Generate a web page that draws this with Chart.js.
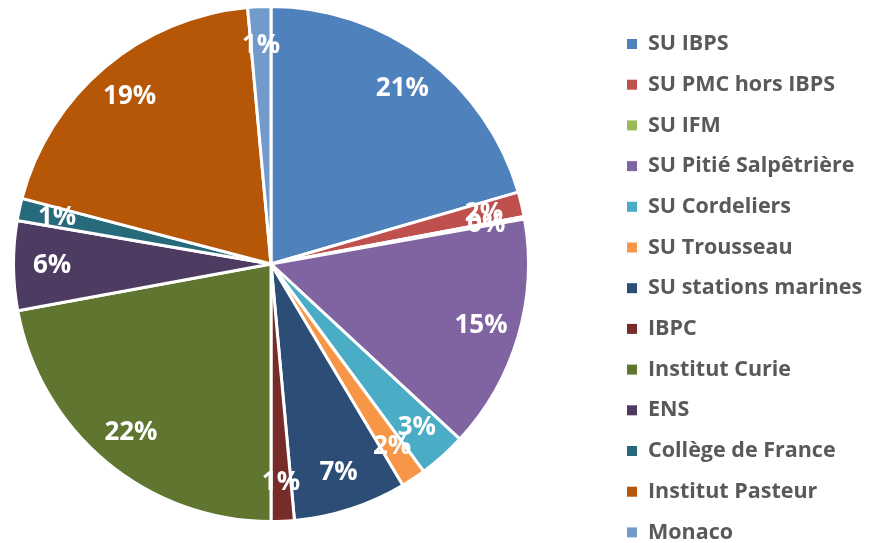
<!DOCTYPE html>
<html>
<head>
<meta charset="utf-8">
<script src="https://cdn.jsdelivr.net/npm/chart.js@4.4.1/dist/chart.umd.min.js"></script>
<style>
  html, body { margin: 0; padding: 0; background: #fff; }
  #wrap { position: relative; width: 869px; height: 543px; }
</style>
</head>
<body>
<div id="wrap"><canvas id="pie"></canvas></div>
<script>
// Répartition par site – camembert avec légende à droite

const labels = [
  'SU IBPS', 'SU PMC hors IBPS', 'SU IFM', 'SU Pitié Salpêtrière', 'SU Cordeliers',
  'SU Trousseau', 'SU stations marines', 'IBPC', 'Institut Curie', 'ENS',
  'Collège de France', 'Institut Pasteur', 'Monaco'
];
const values = [20.5, 1.55, 0.15, 14.7, 3.0, 1.55, 7.1, 1.45, 22.1, 5.6, 1.4, 19.45, 1.45];
const colors = [
  '#4F81BD', '#C0504D', '#9BBB59', '#8064A2', '#4BACC6',
  '#F79646', '#2C4D75', '#772C2A', '#5F7530', '#4D3B62',
  '#276A7C', '#B65708', '#729ACA'
];

const FONT = '"Open Sans", "DejaVu Sans", sans-serif';

// étiquettes de pourcentage, placées à ~85% du rayon
const pctLabels = {
  id: 'pctLabels',
  afterDatasetsDraw(chart) {
    const ctx = chart.ctx;
    const meta = chart.getDatasetMeta(0);
    const total = values.reduce((a, b) => a + b, 0);
    ctx.save();
    ctx.font = 'bold 26px ' + FONT;
    ctx.fillStyle = '#ffffff';
    ctx.textAlign = 'center';
    ctx.textBaseline = 'middle';
    meta.data.forEach((arc, i) => {
      const p = arc.getProps(['x', 'y', 'startAngle', 'endAngle', 'outerRadius'], true);
      const mid = (p.startAngle + p.endAngle) / 2;
      const r = p.outerRadius * 0.85;
      const txt = Math.round(values[i] / total * 100) + '%';
      ctx.fillText(txt, p.x + Math.cos(mid) * r, p.y + Math.sin(mid) * r);
    });
    ctx.restore();
  }
};

// légende dessinée à la main (colonne unique à droite)
const sideLegend = {
  id: 'sideLegend',
  afterDraw(chart) {
    const ctx = chart.ctx;
    const x0 = 627, y0 = 44, step = 40.7;
    ctx.save();
    ctx.font = 'bold 21.5px ' + FONT;
    ctx.textBaseline = 'middle';
    ctx.textAlign = 'left';
    labels.forEach((lab, i) => {
      const y = y0 + i * step;
      ctx.fillStyle = colors[i];
      ctx.fillRect(x0, y - 5, 10, 10);
      ctx.fillStyle = '#595959';
      ctx.fillText(lab, x0 + 21, y);
    });
    ctx.restore();
  }
};

new Chart(document.getElementById('pie'), {
  type: 'pie',
  data: {
    labels: labels,
    datasets: [{
      data: values,
      backgroundColor: colors,
      borderColor: '#ffffff',
      borderWidth: 3
    }]
  },
  options: {
    responsive: true,
    maintainAspectRatio: false,
    animation: false,
    layout: { padding: { top: 5, bottom: 20, left: 12, right: 339 } },
    plugins: {
      legend: { display: false },
      tooltip: { enabled: false }
    }
  },
  plugins: [pctLabels, sideLegend]
});
</script>
</body>
</html>
